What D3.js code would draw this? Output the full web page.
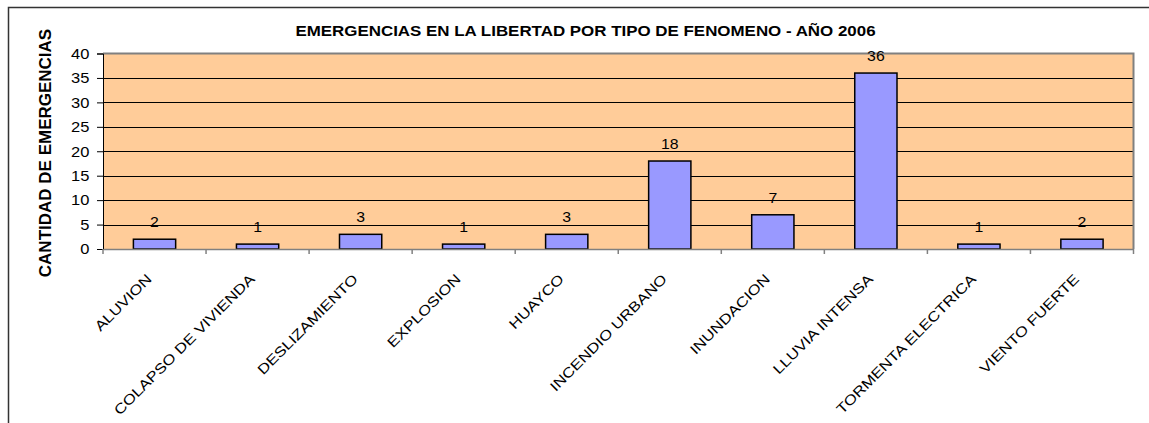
<!DOCTYPE html>
<html>
<head>
<meta charset="utf-8">
<script src="https://cdn.jsdelivr.net/npm/d3@7"></script>
<style>
  body { margin: 0; background: #fff; }
  svg { display: block; font-family: "Liberation Sans", Arial, sans-serif; }
</style>
</head>
<body>
<div id="chart"></div>
<script>
'use strict';

const title = 'EMERGENCIAS EN LA LIBERTAD POR TIPO DE FENOMENO - AÑO 2006';
const yTitle = 'CANTIDAD DE EMERGENCIAS';
const categories = ['ALUVION', 'COLAPSO DE VIVIENDA', 'DESLIZAMIENTO', 'EXPLOSION', 'HUAYCO',
    'INCENDIO URBANO', 'INUNDACION', 'LLUVIA INTENSA', 'TORMENTA ELECTRICA', 'VIENTO FUERTE'];
const values = [2, 1, 3, 1, 3, 18, 7, 36, 1, 2];
const yTicks = [0, 5, 10, 15, 20, 25, 30, 35, 40];

const width = 1149, height = 423;
const plot = {left: 103, top: 53.5, right: 1133.5, bottom: 249};

const svg = d3.select('#chart').append('svg')
    .attr('width', width)
    .attr('height', height);

// outer frame (runs off the right and bottom edges)
svg.append('rect')
    .attr('x', 8.5).attr('y', 7.5)
    .attr('width', 1300).attr('height', 600)
    .attr('fill', 'none')
    .attr('stroke', '#333')
    .attr('stroke-width', 1.5);

let x = d3.scaleBand()
    .domain(categories)
    .range([plot.left, plot.right])
    .paddingInner(0.59)
    .paddingOuter(0.295);

let xAxisScale = d3.scaleBand()
    .domain(categories)
    .range([plot.left, plot.right]);

let y = d3.scaleLinear()
    .domain([0, 40])
    .range([plot.bottom, plot.top]);

// plot background
svg.append('rect')
    .attr('x', plot.left).attr('y', plot.top)
    .attr('width', plot.right - plot.left)
    .attr('height', plot.bottom - plot.top)
    .attr('fill', '#FFCC99');

// gridlines
svg.append('g')
    .selectAll('line')
    .data(yTicks.filter(function (t) { return t > 0 && t < 40; }))
    .enter().append('line')
    .attr('x1', plot.left).attr('x2', plot.right)
    .attr('y1', function (d) { return Math.round(y(d)) + 0.5; })
    .attr('y2', function (d) { return Math.round(y(d)) + 0.5; })
    .attr('stroke', '#000')
    .attr('stroke-width', 1);

// top / right border in grey
svg.append('path')
    .attr('d', 'M' + plot.left + ',' + plot.top + 'H' + plot.right + 'V' + plot.bottom)
    .attr('fill', 'none')
    .attr('stroke', '#808080')
    .attr('stroke-width', 2);

// bars
svg.append('g')
    .selectAll('rect')
    .data(values)
    .enter().append('rect')
    .attr('x', function (d, i) { return x(categories[i]); })
    .attr('y', function (d) { return y(d); })
    .attr('width', x.bandwidth())
    .attr('height', function (d) { return y(0) - y(d); })
    .attr('fill', '#9999FF')
    .attr('stroke', '#000')
    .attr('stroke-width', 1.5);

// value labels
svg.append('g')
    .selectAll('text')
    .data(values)
    .enter().append('text')
    .attr('transform', function (d, i) {
        return 'translate(' + (x(categories[i]) + x.bandwidth() / 2) + ',' + (y(d) - 12) + ') scale(1.13,1)';
    })
    .attr('text-anchor', 'middle')
    .attr('font-size', 14)
    .text(function (d) { return d; });

// y axis
let yAxis = svg.append('g')
    .attr('transform', 'translate(' + plot.left + ',0)')
    .call(d3.axisLeft(y).tickValues(yTicks).tickSize(6));
yAxis.selectAll('text')
    .attr('x', -12.4)
    .attr('transform', 'scale(1.1,1)')
    .attr('font-size', 15)
    .attr('fill', '#000')
    .attr('font-family', null);
yAxis.selectAll('line,path').attr('stroke', '#000');

// x axis
let xAxis = svg.append('g')
    .attr('transform', 'translate(0,' + plot.bottom + ')')
    .call(d3.axisBottom(xAxisScale).tickSize(0).tickFormat(''));
xAxis.select('.domain').attr('stroke', '#808080').attr('stroke-width', 1.5);
xAxis.selectAll('.tick').remove();

xAxis.selectAll('.sep')
    .data(xAxisScale.domain().concat(['__end']))
    .enter().append('line')
    .attr('class', 'sep')
    .attr('x1', function (d) { return d === '__end' ? plot.right : xAxisScale(d); })
    .attr('x2', function (d) { return d === '__end' ? plot.right : xAxisScale(d); })
    .attr('y1', 0).attr('y2', 5)
    .attr('stroke', '#808080')
    .attr('stroke-width', 1.5);

// category labels, rotated 45 degrees, ending just under each band centre
svg.append('g')
    .selectAll('text')
    .data(categories)
    .enter().append('text')
    .attr('transform', function (d) {
        let cx = xAxisScale(d) + xAxisScale.bandwidth() / 2 - 2;
        return 'translate(' + cx + ',280) rotate(-45) scale(1.2,1)';
    })
    .attr('text-anchor', 'end')
    .attr('font-size', 14)
    .text(function (d) { return d; });

// titles
svg.append('text')
    .attr('transform', 'translate(585.5,36) scale(1.21,1)')
    .attr('text-anchor', 'middle')
    .attr('font-size', 14)
    .attr('font-weight', 'bold')
    .text(title);

svg.append('text')
    .attr('transform', 'translate(51,153) rotate(-90)')
    .attr('text-anchor', 'middle')
    .attr('font-size', 17)
    .attr('font-weight', 'bold')
    .text(yTitle);
</script>
</body>
</html>
